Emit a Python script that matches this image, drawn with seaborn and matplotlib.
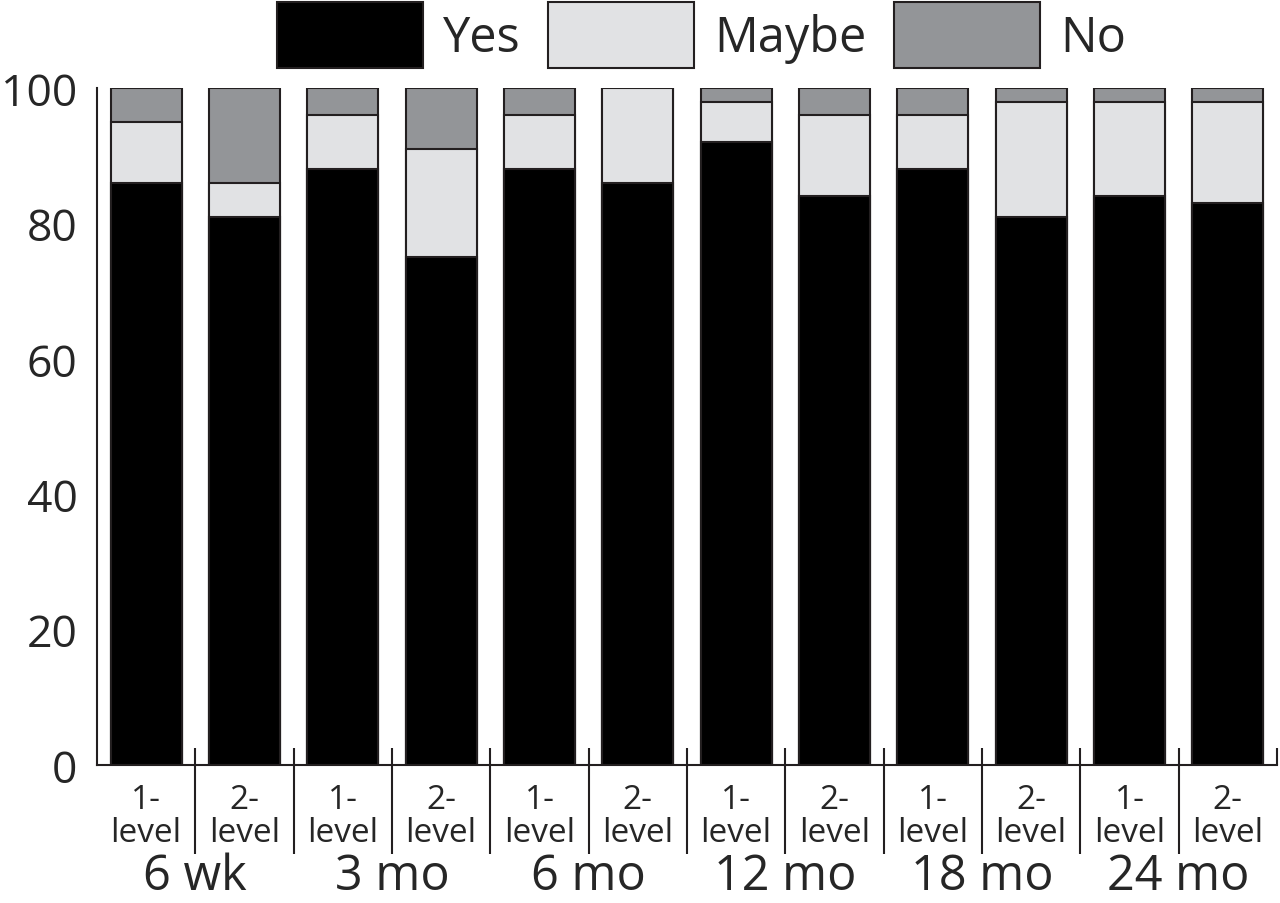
import matplotlib
matplotlib.use("Agg")
import matplotlib.pyplot as plt
from matplotlib.patches import Patch
import numpy as np
import pandas as pd
import seaborn as sns

# ---- data ----
timepoints = ["6 wk", "3 mo", "6 mo", "12 mo", "18 mo", "24 mo"]
levels = ["1-\nlevel", "2-\nlevel"]
yes   = [86, 81, 88, 75, 88, 86, 92, 84, 88, 81, 84, 83]
maybe = [9, 5, 8, 16, 8, 14, 6, 12, 8, 17, 14, 15]
no    = [5, 14, 4, 9, 4, 0, 2, 4, 4, 2, 2, 2]
series = ["Yes", "Maybe", "No"]
colors = {"Yes": "#000000", "Maybe": "#e1e2e4", "No": "#939598"}
yticks = [0, 20, 40, 60, 80, 100]

sns.set_style("white")
plt.rcParams["font.family"] = ["Open Sans", "DejaVu Sans"]

keys = [f"{tp}|{lv}" for tp in timepoints for lv in levels]
df = pd.DataFrame({"bar": keys, "Yes": yes, "Maybe": maybe, "No": no})
df["cum_maybe"] = df["Yes"] + df["Maybe"]
df["cum_no"] = df["cum_maybe"] + df["No"]

edge = "#231f20"
W, H = 1280, 904
fig = plt.figure(figsize=(W / 100, H / 100), dpi=100)
ax = fig.add_axes([97 / W, 1 - 766 / H, 1180 / W, 677 / H])

for col, name in [("cum_no", "No"), ("cum_maybe", "Maybe"), ("Yes", "Yes")]:
    sns.barplot(data=df, x="bar", y=col, order=keys, color=colors[name],
                saturation=1, width=0.72, edgecolor=edge, linewidth=1.5,
                errorbar=None, ax=ax)

ax.set_xlabel("")
ax.set_ylabel("")
ax.set_xlim(-0.5, len(keys) - 0.5)
ax.set_ylim(0, 100)
ax.set_yticks(yticks)
ax.set_yticklabels([str(t) for t in yticks], fontsize=32)
ax.set_xticks(range(len(keys)))
ax.set_xticklabels(levels * len(timepoints), fontsize=24, linespacing=1.0)
ax.tick_params(axis="x", length=0, pad=13)
ax.tick_params(axis="y", direction="in", length=9, width=1.5, color=edge, pad=14)
sns.despine(ax=ax)
for s in ["left", "bottom"]:
    ax.spines[s].set_linewidth(1.5)
    ax.spines[s].set_color(edge)

# separators between bars
trans = ax.get_xaxis_transform()
ax.vlines(np.arange(0.5, len(keys) - 1, 1), ymin=-0.131, ymax=0.025,
          transform=trans, clip_on=False, color=edge, lw=1.5)
ax.vlines([len(keys) - 0.5], ymin=0, ymax=0.025, transform=trans,
          clip_on=False, color=edge, lw=1.5)

# group labels
for i, tp in enumerate(timepoints):
    ax.text(2 * i + 0.5, -0.2015, tp, transform=trans, ha="center",
            va="bottom", fontsize=35)

handles = [Patch(facecolor=colors[s], edgecolor=edge, linewidth=1.5, label=s)
           for s in series]
fig.legend(handles=handles, loc="center left",
           bbox_to_anchor=(277 / W, 1 - 36 / H), ncol=3, frameon=False,
           fontsize=35, handlelength=3.0, handleheight=1.7,
           handletextpad=0.42, columnspacing=0.56, borderpad=0,
           borderaxespad=0)

fig.savefig("out.png", dpi=100)
